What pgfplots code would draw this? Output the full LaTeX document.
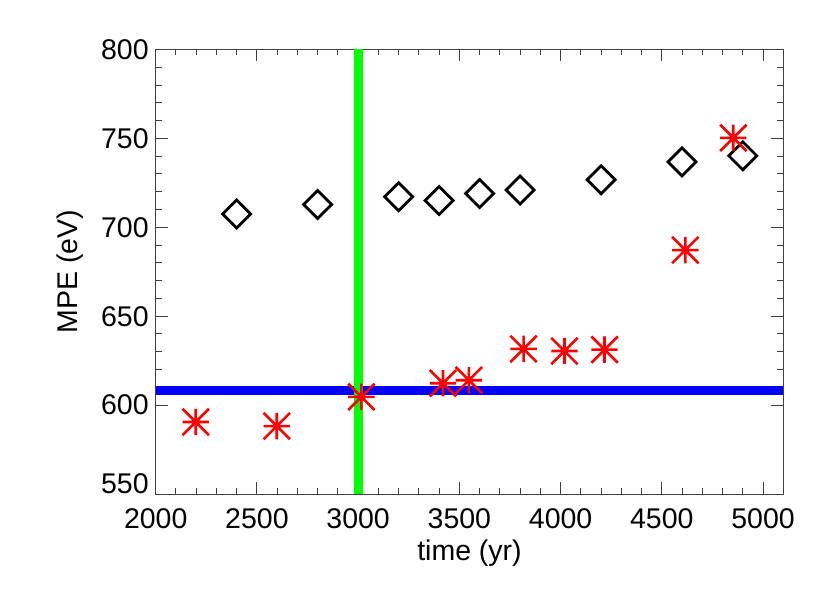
\documentclass[border=0pt]{standalone}
\usepackage{fontspec}
\setmainfont{Liberation Sans}
\usepackage{pgfplots}
\pgfplotsset{compat=1.18}

% IDL-style asterisk: horizontal, vertical and two diagonals
\pgfdeclareplotmark{idlast}{%
  \pgfpathmoveto{\pgfqpoint{-\pgfplotmarksize}{0pt}}%
  \pgfpathlineto{\pgfqpoint{\pgfplotmarksize}{0pt}}%
  \pgfpathmoveto{\pgfqpoint{0pt}{-\pgfplotmarksize}}%
  \pgfpathlineto{\pgfqpoint{0pt}{\pgfplotmarksize}}%
  \pgfpathmoveto{\pgfqpoint{-\pgfplotmarksize}{-\pgfplotmarksize}}%
  \pgfpathlineto{\pgfqpoint{\pgfplotmarksize}{\pgfplotmarksize}}%
  \pgfpathmoveto{\pgfqpoint{-\pgfplotmarksize}{\pgfplotmarksize}}%
  \pgfpathlineto{\pgfqpoint{\pgfplotmarksize}{-\pgfplotmarksize}}%
  \pgfusepathqstroke}

\begin{document}
\begin{tikzpicture}
\useasboundingbox (-77.85bp,-49.5bp) rectangle (337.15bp,247bp);
\begin{axis}[
  scale only axis, width=313.8bp, height=222.25bp,
  xmin=2000, xmax=5100, ymin=550, ymax=800,
  xtick={2000,2500,...,5000}, ytick={600,650,...,800},
  extra y ticks={550},
  extra y tick style={yticklabel style={yshift=5bp}},
  minor x tick num=4, minor y tick num=4,
  tick align=inside, major tick length=6bp, minor tick length=3bp,
  axis line style={black!75, line width=0.5bp},
  every tick/.style={black!75, line width=0.5bp},
  font=\fontsize{14.3}{16}\selectfont,
  xticklabel style={yshift=-4bp},
  /pgf/number format/assume math mode=true,
  /pgf/number format/1000 sep={},
  scaled ticks=false,
  every axis x label/.style={at={(axis description cs:0.5,0)}, yshift=-29.5bp, anchor=center},
  every axis y label/.style={at={(axis description cs:0,0.5)}, xshift=-42.8bp, rotate=90, anchor=center},
  xlabel={time (yr)},
  ylabel={MPE (eV)},
]
% reference lines
\addplot[blue, line width=4.5bp] coordinates {(2000,608) (5100,608)};
\addplot[color={rgb,255:red,0;green,255;blue,0}, line width=4.5bp] coordinates {(3000,550) (3000,800)};

% diamonds
\addplot[only marks, mark=square, mark size=4.95bp,
  mark options={rotate=45, black, line width=1.4bp, fill=none}]
  coordinates {
  (2400,707.5) (2800,712.8) (3200,717.2) (3400,715.1) (3600,719.0)
  (3800,721.0) (4200,726.7) (4600,736.8) (4900,740.2)
};

% asterisks
\addplot[only marks, mark=idlast, mark size=6.6bp,
  mark options={red, line width=1.3bp}]
  coordinates {
  (2198,590.5) (2598,588.2) (3016,604.6) (3419,612.3) (3547,614.0)
  (3817,631.6) (4019,630.4) (4217,631.2) (4616,687.2) (4853,750.3)
};
\end{axis}
\end{tikzpicture}
\end{document}
